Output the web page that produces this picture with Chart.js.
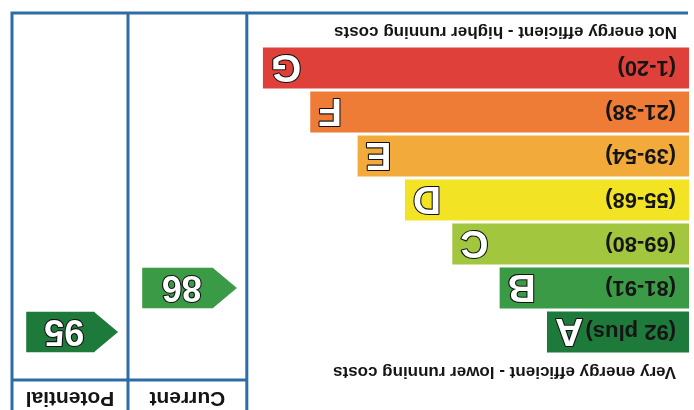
<!DOCTYPE html>
<html>
<head>
<meta charset="utf-8">
<script src="https://cdn.jsdelivr.net/npm/chart.js@4.4.0/dist/chart.umd.min.js"></script>
<style>
  html, body { margin: 0; padding: 0; background: #fff; overflow: hidden; }
  /* the reference is printed upside down, so the whole chart is turned round */
  #wrap { width: 694px; height: 410px; transform: rotate(180deg); }
</style>
</head>
<body>
<div id="wrap"><canvas id="epc" width="694" height="410"></canvas></div>
<script>
// Bandas de eficiência
const bands = ['A', 'B', 'C', 'D', 'E', 'F', 'G'];
const bandRanges = ['(92 plus)', '(81-91)', '(69-80)', '(55-68)', '(39-54)', '(21-38)', '(1-20)'];
const bandMinScores = [92, 81, 69, 55, 39, 21, 1];
const bandLengths = [3, 4, 5, 6, 7, 8, 9];
const bandColors = ['#1d7a3b', '#3a9a45', '#a2c63e', '#f2e424', '#f2ab3b', '#ee7c37', '#e0403a'];

// Colunas de pontuação
const columnNames = ['Current', 'Potential'];
const columnScores = [86, 95];

const topText = 'Very energy efficient - lower running costs';
const bottomText = 'Not energy efficient - higher running costs';

// limites das colunas no eixo x
const xMax = 14.3;
const columnEdges = [9.34, 11.85, 14.3];
const borderColor = '#2e6ca6';
const fontFamily = '"Liberation Sans", Arial, sans-serif';

function bandIndex(score) {
    return bandMinScores.findIndex(min => score >= min);
}

// uma seta por coluna, na linha da banda da pontuação
const arrowDatasets = columnNames.map((name, c) => {
    const row = bandIndex(columnScores[c]);
    const start = columnEdges[c];
    const end = columnEdges[c + 1];
    return {
        label: name,
        data: bands.map((b, i) => i === row ? [start + 0.71, end - 0.3] : null),
        backgroundColor: bandColors[row],
        tipValue: start + 0.21,
        score: columnScores[c],
        barPercentage: 0.92,
        categoryPercentage: 1,
        grouped: false
    };
});

// texto branco com contorno preto
function outlinedText(ctx, text, x, y) {
    ctx.lineWidth = 2.2;
    ctx.strokeStyle = '#111';
    ctx.strokeText(text, x, y);
    ctx.fillStyle = '#fff';
    ctx.fillText(text, x, y);
}

const epcPlugin = {
    id: 'epcPlugin',
    afterDatasetsDraw(chart) {
        const ctx = chart.ctx;
        const x = chart.scales.x;
        const area = chart.chartArea;

        ctx.save();
        ctx.lineJoin = 'round';

        // textos das bandas
        const bandMeta = chart.getDatasetMeta(0);
        bandMeta.data.forEach((bar, i) => {
            const p = bar.getProps(['x', 'y', 'base', 'height'], true);
            ctx.font = 'bold 22px ' + fontFamily;
            ctx.textAlign = 'left';
            ctx.textBaseline = 'middle';
            ctx.fillStyle = '#151515';
            ctx.fillText(bandRanges[i], x.getPixelForValue(0) + 13, p.y + 1);

            ctx.font = 'bold 39px ' + fontFamily;
            ctx.textAlign = 'right';
            outlinedText(ctx, bands[i], p.x - 8, p.y + 2);
        });

        // pontas das setas e números
        arrowDatasets.forEach((ds, k) => {
            const meta = chart.getDatasetMeta(k + 1);
            meta.data.forEach((bar, i) => {
                if (ds.data[i] === null) return;
                const p = bar.getProps(['x', 'y', 'base', 'height'], true);
                const left = Math.min(p.x, p.base);
                const right = Math.max(p.x, p.base);
                const tip = x.getPixelForValue(ds.tipValue);
                ctx.fillStyle = ds.backgroundColor;
                ctx.beginPath();
                ctx.moveTo(left + 0.5, p.y - p.height / 2);
                ctx.lineTo(tip, p.y);
                ctx.lineTo(left + 0.5, p.y + p.height / 2);
                ctx.closePath();
                ctx.fill();

                ctx.font = 'bold 36px ' + fontFamily;
                ctx.textAlign = 'center';
                ctx.textBaseline = 'middle';
                outlinedText(ctx, String(ds.score), (left + right) / 2 - 4, p.y + 2);
            });
        });

        // legendas de cima e de baixo
        ctx.font = 'bold 17px ' + fontFamily;
        ctx.textAlign = 'left';
        ctx.textBaseline = 'alphabetic';
        ctx.fillStyle = '#151515';
        ctx.fillText(topText, area.left + 13, area.top - 13);
        ctx.fillText(bottomText, area.left + 12, area.bottom + 19);

        // grade das colunas
        const headerY = 30;
        const frameBottom = area.bottom + 33;
        ctx.strokeStyle = borderColor;
        ctx.lineWidth = 3;
        ctx.lineCap = 'butt';
        ctx.beginPath();
        ctx.moveTo(area.left + 1, frameBottom);
        ctx.lineTo(x.getPixelForValue(columnEdges[2]), frameBottom);
        columnEdges.forEach(v => {
            const px = x.getPixelForValue(v);
            ctx.moveTo(px, 0);
            ctx.lineTo(px, frameBottom + 1.5);
        });
        ctx.moveTo(x.getPixelForValue(columnEdges[0]), headerY);
        ctx.lineTo(x.getPixelForValue(columnEdges[2]), headerY);
        ctx.stroke();

        // cabeçalho das colunas
        ctx.font = 'bold 21px ' + fontFamily;
        ctx.textAlign = 'center';
        ctx.fillStyle = '#151515';
        columnNames.forEach((name, c) => {
            const cx = (x.getPixelForValue(columnEdges[c]) + x.getPixelForValue(columnEdges[c + 1])) / 2;
            ctx.fillText(name, cx, 18);
        });

        ctx.restore();
    }
};

new Chart(document.getElementById('epc'), {
    type: 'bar',
    data: {
        labels: bands,
        datasets: [{
            label: 'Bands',
            data: bandLengths,
            backgroundColor: bandColors,
            barPercentage: 0.93,
            categoryPercentage: 1,
            grouped: false
        }].concat(arrowDatasets)
    },
    options: {
        indexAxis: 'y',
        responsive: false,
        animation: false,
        devicePixelRatio: 1,
        events: [],
        layout: {
            padding: { left: 5, right: 12, top: 56, bottom: 46 }
        },
        plugins: {
            legend: { display: false },
            tooltip: { enabled: false },
            title: { display: false }
        },
        scales: {
            x: { type: 'linear', min: 0, max: xMax, display: false },
            y: { display: false }
        }
    },
    plugins: [epcPlugin]
});
</script>
</body>
</html>
